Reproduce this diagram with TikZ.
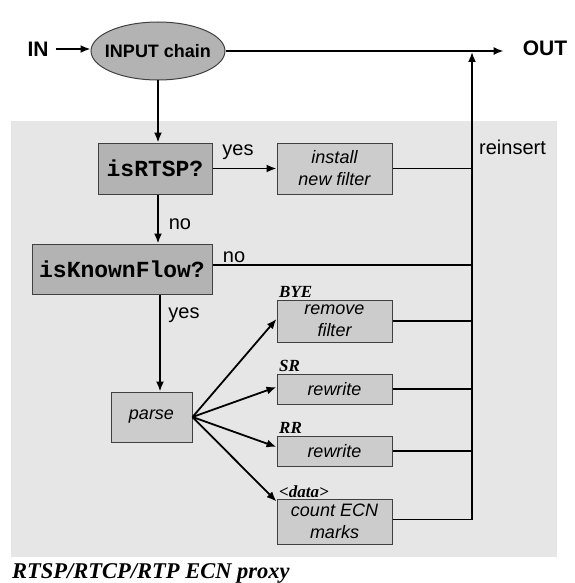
\documentclass[tikz,border=0pt]{standalone}
\usepackage{fontspec}
\setmainfont{Liberation Sans}
\newfontfamily\monofnt{Liberation Mono}
\newfontfamily\seriffnt{Liberation Serif}
\usetikzlibrary{arrows.meta,shapes.geometric}
\definecolor{bggray}{HTML}{E6E6E6}
\definecolor{decgray}{HTML}{B3B3B3}
\definecolor{actgray}{HTML}{CCCCCC}
\definecolor{edgegray}{HTML}{404040}
\begin{document}
\begin{tikzpicture}[x=1pt,y=-1pt,
  conn/.style={line width=1.8pt},
  arr/.style={conn,-{Latex[length=10pt,width=8pt]}},
  decbox/.style={draw=edgegray,line width=1pt,fill=decgray,inner sep=0pt,
    font=\monofnt\bfseries\fontsize{23}{26}\selectfont},
  actbox/.style={draw=edgegray,line width=1pt,fill=actgray,inner sep=0pt,align=center,
    font=\fontsize{18}{22}\selectfont\itshape},
  lbl/.style={font=\fontsize{20}{24}\selectfont,inner sep=0pt},
  big/.style={font=\bfseries\fontsize{21}{24}\selectfont,inner ysep=0pt},
  tag/.style={font=\seriffnt\bfseries\itshape\fontsize{17}{20}\selectfont,inner sep=0pt,anchor=base west},
]
\useasboundingbox (0,0) rectangle (574,583);
\fill[bggray] (11,121) rectangle (557,557);

% nodes
\node[big,inner xsep=7pt] (in) at (38,49) {IN};
\node[big,inner xsep=19pt] (out) at (545,48) {OUT};
\node[ellipse,draw=edgegray,line width=1pt,fill=decgray,minimum width=134pt,minimum height=58pt,
  inner xsep=-8pt,inner ysep=0pt,font=\bfseries\fontsize{18}{21}\selectfont] (ic) at (158,51) {INPUT chain};
\node[decbox,minimum width=114pt,minimum height=51pt] (rtsp) at (155,168.5) {isRTSP?};
\node[decbox,minimum width=180pt,minimum height=50pt] (kf) at (122,269) {isKnownFlow?};
\node[actbox,minimum width=115pt,minimum height=51pt] (inst) at (334.5,168.5) {install\\new filter};
\node[actbox,minimum width=81pt,minimum height=50pt] (parse) at (151.5,417) {parse};
\node[actbox,minimum width=115pt,minimum height=42pt] (rem) at (334.5,321) {remove\\filter};
\node[actbox,minimum width=115pt,minimum height=30pt] (sr) at (334.5,389) {rewrite};
\node[actbox,minimum width=115pt,minimum height=30pt] (rr) at (334.5,451) {rewrite};
\node[actbox,minimum width=115pt,minimum height=45pt] (cnt) at (334.5,521.5) {count ECN\\marks};

% tags
\node[tag] (tbye) at (279,297) {BYE};
\node[tag] (tsr) at (279,371) {SR};
\node[tag] (trr) at (279,433) {RR};
\node[tag] (tdata) at (279,497) {<data>};

% labels
\node[lbl] (lyes1) at (238,152) {yes};
\node[lbl] (lno1) at (180,224) {no};
\node[lbl] (lno2) at (234,257) {no};
\node[lbl] (lyes2) at (184,315) {yes};
\node[lbl,anchor=west] (lre) at (479,147) {reinsert};

% caption
\node[font=\seriffnt\bfseries\itshape\fontsize{22.5}{26}\selectfont,inner sep=0pt,anchor=base west] (cap) at (12,578.5) {RTSP/RTCP/RTP ECN proxy};

% coordinates
\coordinate (top) at (472,52);
\coordinate (spine) at (158,0);
\coordinate (px) at (160,0);

% connectors
\draw[arr] (in.east) -- (in.east -| ic.west);
\draw[arr] (ic.east) -- (ic.east -| out.west);
\draw[arr] (ic.south) -- (spine |- rtsp.north);
\draw[arr] (spine |- rtsp.south) -- (spine |- kf.north);
\draw[arr] (rtsp.east) -- (inst.west);
\draw[arr] (px |- kf.south) -- (px |- parse.north);
\draw[arr] (parse.east) -- ([yshift=2pt]rem.west);
\draw[arr] (parse.east) -- ([yshift=2pt]sr.west);
\draw[arr] (parse.east) -- ([yshift=4pt]rr.west);
\draw[arr] (parse.east) -- ([yshift=-3pt]cnt.north west);

\draw[conn] (inst.east) -- (inst.east -| top);
\draw[conn] ([yshift=4pt]kf.east) -- ([yshift=4pt]kf.east -| top);
\draw[conn] (rem.east) -- (rem.east -| top);
\draw[conn] (sr.east) -- (sr.east -| top);
\draw[conn] (rr.east) -- (rr.east -| top);
\draw[conn] ([yshift=2pt]cnt.east) -- ([yshift=2pt]cnt.east -| top);
\draw[arr] ([yshift=2pt]cnt.east -| top) -- (top);
\end{tikzpicture}
\end{document}
